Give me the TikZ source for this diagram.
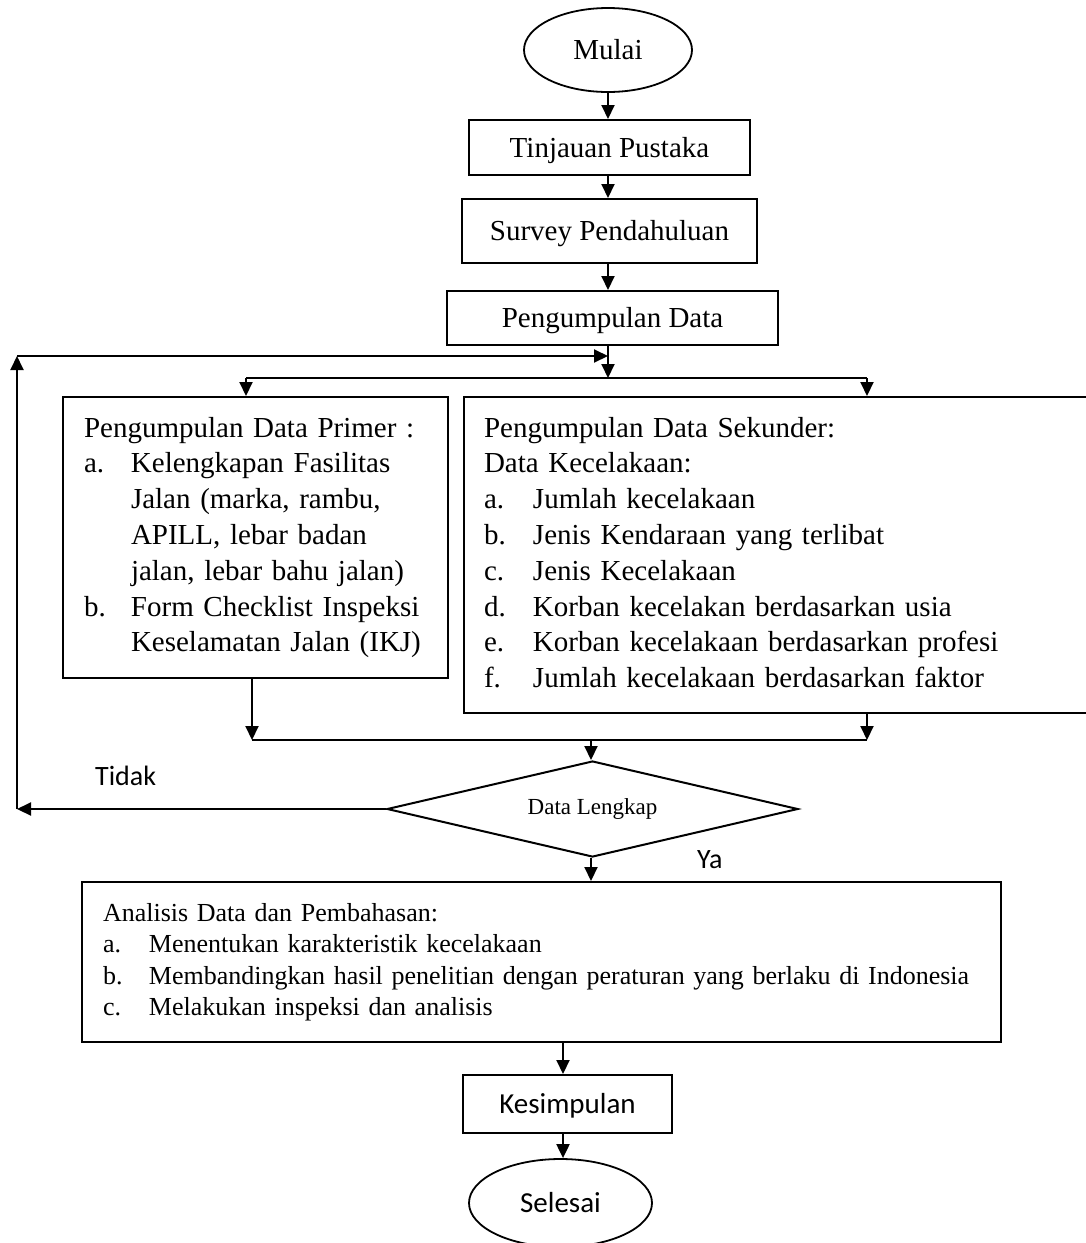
\documentclass[tikz,border=0pt]{standalone}
\usepackage{fontspec}
\setmainfont{Liberation Serif}
\newfontfamily\calfont{Carlito}
\usetikzlibrary{shapes.geometric,arrows.meta}
\newcommand\lbl[2][47pt]{\makebox[#1][l]{#2}}
\begin{document}
\begin{tikzpicture}[x=1pt,y=-1pt,
  box/.style={draw,line width=2pt,rectangle,inner sep=0pt,text height=19.2pt,text depth=0pt,font=\fontsize{29pt}{35.8pt}\selectfont},
  listbox/.style={draw,line width=2pt,rectangle,align=left,anchor=north west,font=\fontsize{29pt}{35.8pt}\selectfont},
  term/.style={draw,ellipse,line width=1.8pt,inner sep=0pt,text height=19.2pt,text depth=0pt,font=\fontsize{29pt}{35.8pt}\selectfont},
  dec/.style={draw,diamond,aspect=4.28,line width=2pt,inner sep=0pt,font=\fontsize{23pt}{27pt}\selectfont},
  lab/.style={inner sep=0pt,anchor=base west,font=\calfont\fontsize{28pt}{34pt}\selectfont},
  arr/.style={line width=2pt,-{Triangle[length=14pt,width=13pt]}},
  thinline/.style={line width=1.2pt}]
\useasboundingbox (0,0) rectangle (1086,1243);
\clip (0,0) rectangle (1086,1243);

\node[term,minimum width=168pt,minimum height=84pt] (mulai) at (608,50) {Mulai};
\node[box,minimum width=281pt,minimum height=55pt] (tinj) at (609.5,147.5) {Tinjauan Pustaka};
\node[box,minimum width=295pt,minimum height=64pt] (surv) at (609.5,231) {Survey Pendahuluan};
\node[box,minimum width=331pt,minimum height=54pt] (pd) at (612.5,318) {Pengumpulan Data};

\node[listbox,inner xsep=21pt,inner ysep=15pt,text width=343pt] (prim) at (62,396) {%
\strut Pengumpulan Data Primer :\\
\lbl{a.}Kelengkapan Fasilitas\\
\hspace*{47pt}Jalan (marka, rambu,\\
\hspace*{47pt}APILL, lebar badan\\
\hspace*{47pt}jalan, lebar bahu jalan)\\
\lbl{b.}Form Checklist Inspeksi\\
\hspace*{47pt}Keselamatan Jalan (IKJ)\strut};

\node[listbox,inner xsep=20pt,inner ysep=15pt,text width=583pt] (sek) at (463,396) {%
\strut Pengumpulan Data Sekunder:\\
Data Kecelakaan:\\
\lbl[49pt]{a.}Jumlah kecelakaan\\
\lbl[49pt]{b.}Jenis Kendaraan yang terlibat\\
\lbl[49pt]{c.}Jenis Kecelakaan\\
\lbl[49pt]{d.}Korban kecelakan berdasarkan usia\\
\lbl[49pt]{e.}Korban kecelakaan berdasarkan profesi\\
\lbl[49pt]{f.}Jumlah kecelakaan berdasarkan faktor\strut};

\node[dec,minimum width=411pt,minimum height=96pt] (dec) at (592.5,809) {Data Lengkap};

\node[listbox,font=\fontsize{26pt}{31.5pt}\selectfont,inner xsep=21pt,inner ysep=17pt,text width=877pt] (ana) at (81,881) {%
\strut Analisis Data dan Pembahasan:\\
\mbox{\lbl[46pt]{a.}Menentukan karakteristik kecelakaan}\\
\mbox{\lbl[46pt]{b.}Membandingkan hasil penelitian dengan peraturan yang berlaku di Indonesia}\\
\mbox{\lbl[46pt]{c.}Melakukan inspeksi dan analisis}\strut};

\node[box,font=\calfont\fontsize{29pt}{35pt}\selectfont,text height=18.7pt,minimum width=209pt,minimum height=58pt] (kes) at (567.5,1104) {Kesimpulan};
\node[term,font=\calfont\fontsize{29pt}{35pt}\selectfont,text height=18.7pt,minimum width=183pt,minimum height=88pt] (sel) at (560.5,1203) {Selesai};

\node[lab] (tidak) at (95,785) {Tidak};
\node[lab] (ya) at (697,868) {Ya};

\coordinate (split) at (608,378);
\coordinate (bl) at (246,378);
\coordinate (br) at (867,378);
\coordinate (ml) at (252,740);
\coordinate (mr) at (867,740);
\coordinate (merge) at (591,740);
\coordinate (fbl) at (17,809);
\coordinate (ftl) at (17,356);
\coordinate (fbr) at (608,356);
\coordinate (kx) at (563,0);

\draw[arr] (mulai.south) -- (mulai.south |- tinj.north);
\draw[arr] (mulai.south |- tinj.south) -- (mulai.south |- surv.north);
\draw[arr] (mulai.south |- surv.south) -- (mulai.south |- pd.north);
\draw[arr] (split |- pd.south) -- (split);
\draw[thinline] (bl) -- (br);
\draw[arr] (bl) -- (bl |- prim.north);
\draw[arr] (br) -- (br |- sek.north);
\draw[arr] (ml |- prim.south) -- (ml);
\draw[arr] (mr |- sek.south) -- (mr);
\draw[thinline] (ml) -- (mr);
\draw[arr] (merge) -- (merge |- dec.north);
\draw[arr] (dec.west) -- (fbl);
\draw[arr] (fbl) -- (ftl);
\draw[arr] (ftl) -- (fbr);
\draw[arr] (merge |- dec.south) -- (merge |- ana.north);
\draw[arr] (kx |- ana.south) -- (kx |- kes.north);
\draw[arr] (kx |- kes.south) -- (kx |- sel.north);
\end{tikzpicture}
\end{document}
